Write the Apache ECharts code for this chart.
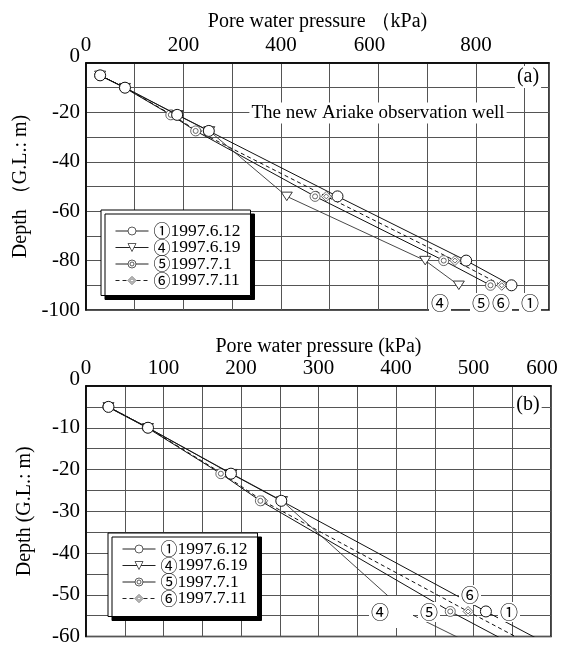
<!DOCTYPE html>
<html><head><meta charset="utf-8">
<script src="https://cdn.jsdelivr.net/npm/echarts@6/dist/echarts.min.js"></script>
<style>html,body{margin:0;padding:0;background:#fff}#c{width:562px;height:647px}</style>
</head><body><div id="c"></div>
<script>
// ---- data ----
const depths = [-5, -10, -21, -27.5, -54, -80, -90];
const p1 = [29, 80, 187, 252, 516, 780, 873];   // ① 1997.6.12
const p4 = [29, 80, 188, 253, 412, 696, 765];   // ④ 1997.6.19
const p5 = [28, 79, 174, 225, 470, 734, 830];   // ⑤ 1997.7.1
const p6 = [29, 80, 176, 228, 493, 757, 853];   // ⑥ 1997.7.11
const seriesNames = ['①1997.6.12', '④1997.6.19', '⑤1997.7.1', '⑥1997.7.11'];
const topLabelStep = 200, topYLabelStep = 20;
const botLabelStep = 100, botYLabelStep = 10;

const SERIF = "'Liberation Serif', 'Times New Roman', serif";
const CJK = "'Noto Sans CJK JP', 'DejaVu Sans', sans-serif";

const symbols = [
  {symbol: 'circle', size: 11, bw: 1, bc: '#111'},
  {symbol: 'path://M0,0L20,0L10,17Z', size: [11, 10], bw: 0.9, bc: '#222'},
  {symbol: 'path://M10,0A10,10 0 1,1 10,20A10,10 0 1,1 10,0ZM10,5A5,5 0 1,1 10,15A5,5 0 1,1 10,5Z', size: 10, bw: 0.8, bc: '#444'},
  {symbol: 'path://M10,0L20,10L10,20L0,10ZM10,5L15,10L10,15L5,10Z', size: 10, bw: 0.8, bc: '#444'}
];
const lineStyles = [
  {color: '#111', width: 1, type: 'solid'},
  {color: '#333', width: 0.9, type: 'solid'},
  {color: '#111', width: 1, type: 'solid'},
  {color: '#111', width: 1, type: [4, 3]}
];
const values = [p1, p4, p5, p6];

function mkSeries(gi) {
  return values.map((arr, i) => ({
    type: 'line',
    name: seriesNames[i],
    xAxisIndex: gi, yAxisIndex: gi,
    data: arr.map((p, k) => [p, depths[k]]),
    symbol: symbols[i].symbol,
    symbolSize: symbols[i].size,
    symbolKeepAspect: true,
    showAllSymbol: true,
    itemStyle: {color: '#fff', borderColor: symbols[i].bc, borderWidth: symbols[i].bw},
    lineStyle: lineStyles[i],
    clip: true,
    z: 5 - i,
    animation: false
  }));
}

function xAxis(gi, max, interval, step, nameText, nameGap) {
  return {
    type: 'value', gridIndex: gi, position: 'top', min: 0, max: max, interval: interval,
    name: nameText, nameLocation: 'middle', nameGap: nameGap,
    nameTextStyle: {fontFamily: SERIF, fontSize: 20, color: '#000'},
    axisLine: {show: true, lineStyle: {color: '#000', width: 1.5}},
    axisTick: {show: false},
    splitLine: {show: true, lineStyle: {color: '#555', width: 1}},
    axisLabel: {
      margin: 7, fontFamily: SERIF, fontSize: 21, color: '#000',
      formatter: v => (v % step === 0 ? (v === 600 ? '{r|600}' : String(v)) : ''),
      rich: {r: {fontFamily: SERIF, fontSize: 21, color: '#000', padding: [0, 18, 0, 0]}}
    }
  };
}
function yAxis(gi, min, interval, step, nameText) {
  return {
    type: 'value', gridIndex: gi, min: min, max: 0, interval: interval,
    name: nameText, nameLocation: 'middle', nameGap: 51, nameRotate: 90,
    nameTextStyle: {fontFamily: SERIF, fontSize: 20, color: '#000'},
    axisLine: {show: true, lineStyle: {color: '#000', width: 1.5}},
    axisTick: {show: false},
    splitLine: {show: true, lineStyle: {color: '#555', width: 1}},
    axisLabel: {
      margin: 6, fontFamily: SERIF, fontSize: 21, color: '#000',
      formatter: v => (v % step === 0 ? (v === 0 ? '{z|0}' : String(v)) : ''),
      rich: {z: {fontFamily: SERIF, fontSize: 21, color: '#000', padding: [0, 0, 14, 0]}}
    }
  };
}
function legend(left, top, pad) {
  return {
    orient: 'vertical', left: left, top: top,
    data: seriesNames,
    itemWidth: 33, itemHeight: 10, itemGap: -1.5,
    padding: pad,
    backgroundColor: '#fff', borderColor: '#000', borderWidth: 1,
    shadowColor: '#000', shadowOffsetX: 4, shadowOffsetY: 4, shadowBlur: 0,
    selectedMode: false,
    itemStyle: {color: '#fff', borderColor: '#333', borderWidth: 0.8},
    lineStyle: {width: 1, color: '#222'},
    formatter: n => '{c|' + n.charAt(0) + '}' + n.slice(1),
    textStyle: {fontFamily: SERIF, fontSize: 17.5, color: '#000', lineHeight: 18,
      rich: {c: {fontFamily: CJK, fontSize: 17, color: '#000', lineHeight: 18}}}
  };
}
function txt(t, x, y, size, fam, pad) {
  return {type: 'text', x: x, y: y, z: 100,
    style: {text: t, font: size + 'px ' + fam, fill: '#000', align: 'center', verticalAlign: 'middle',
      backgroundColor: '#fff', padding: pad || [1, 2]}};
}

const chart = echarts.init(document.getElementById('c'), null, {renderer: 'canvas'});
chart.setOption({
  animation: false,
  backgroundColor: '#fff',
  grid: [
    {left: 86, top: 63, right: 13, bottom: 337, show: true, borderColor: '#000', borderWidth: 1.5, backgroundColor: 'transparent'},
    {left: 86, top: 386, right: 11, bottom: 6, show: true, borderColor: '#000', borderWidth: 1.5, backgroundColor: 'transparent'}
  ],
  xAxis: [
    xAxis(0, 950, 100, topLabelStep, 'Pore water pressure （kPa)', 31),
    xAxis(1, 600, 50, botLabelStep, 'Pore water pressure (kPa)', 29)
  ],
  yAxis: [
    yAxis(0, -100, 10, topYLabelStep, 'Depth （G.L.: m)'),
    yAxis(1, -60, 5, botYLabelStep, 'Depth (G.L.: m)')
  ],
  legend: [legend(101, 210, [12, 10, 6, 14]), legend(108, 533, [7, 10, 9, 14])],
  series: mkSeries(0).concat(mkSeries(1)),
  graphic: [
    txt('(a)', 528, 77, 20, SERIF),
    txt('The new Ariake observation well', 378, 113, 19, SERIF),
    txt('(b)', 528, 405, 20, SERIF),
    txt('④', 440, 303, 18, CJK),
    txt('⑤', 481, 303, 18, CJK),
    txt('⑥', 501, 303, 18, CJK),
    txt('①', 530, 303, 18, CJK),
    txt('④', 391, 612, 18, CJK, [7, 24, 7, 2]),
    txt('⑤', 429, 612, 18, CJK),
    txt('⑥', 470, 595, 18, CJK),
    txt('①', 509, 612, 18, CJK)
  ]
});
</script></body></html>
